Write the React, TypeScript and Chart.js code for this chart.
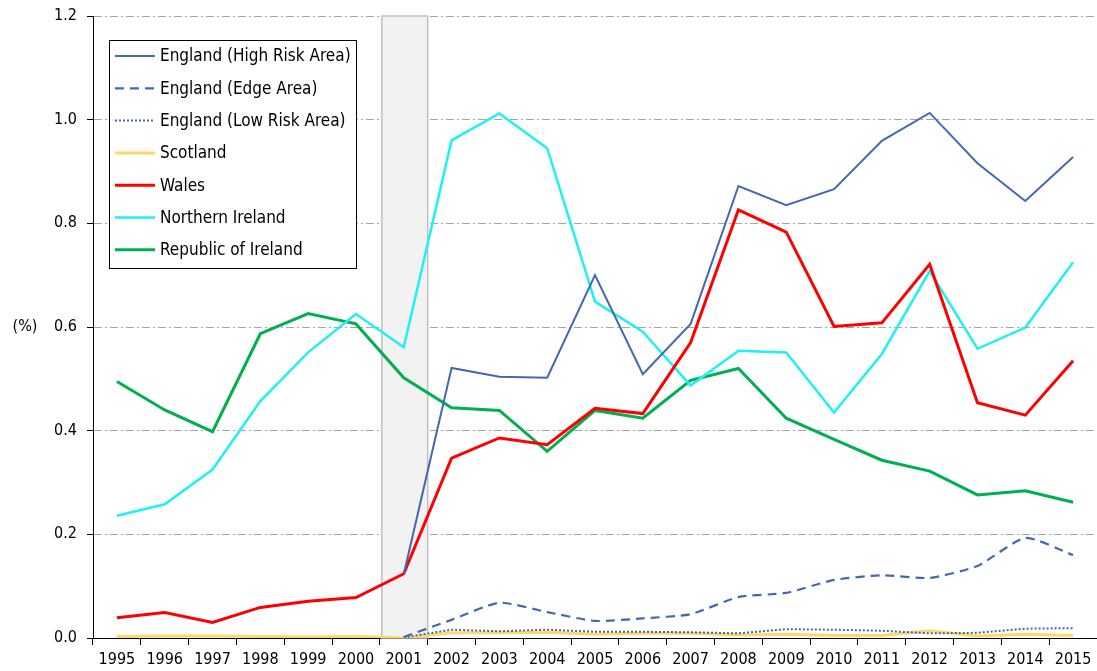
import React, { useEffect, useRef } from "react";
import { Chart, registerables } from "chart.js";

Chart.register(...registerables);

const years = ["1995","1996","1997","1998","1999","2000","2001","2002","2003","2004","2005","2006","2007","2008","2009","2010","2011","2012","2013","2014","2015"];
const yTicks = [0, 0.2, 0.4, 0.6, 0.8, 1.0, 1.2];
const highlightYear = "2001";

const englandHigh = [null,null,null,null,null,null,0.123,0.521,0.504,0.502,0.70,0.509,0.606,0.872,0.835,0.866,0.959,1.013,0.916,0.843,0.928];
const englandEdge = [null,null,null,null,null,null,0.002,0.035,0.068,0.05,0.033,0.038,0.046,0.079,0.087,0.112,0.121,0.116,0.139,0.193,0.16];
const englandLow = [null,null,null,null,null,null,0.001,0.016,0.013,0.016,0.012,0.012,0.011,0.009,0.017,0.016,0.014,0.009,0.01,0.018,0.019];
const scotland = [0.003,0.004,0.004,0.003,0.002,0.003,0.0,0.01,0.01,0.011,0.007,0.009,0.009,0.006,0.007,0.005,0.005,0.014,0.004,0.007,0.005];
const wales = [0.039,0.049,0.03,0.059,0.071,0.078,0.124,0.347,0.386,0.373,0.443,0.433,0.57,0.826,0.783,0.601,0.608,0.721,0.454,0.43,0.535];
const northernIreland = [0.236,0.258,0.325,0.457,0.551,0.625,0.561,0.96,1.012,0.945,0.649,0.591,0.487,0.554,0.551,0.435,0.548,0.708,0.558,0.599,0.725];
const republicOfIreland = [0.495,0.44,0.398,0.587,0.626,0.606,0.502,0.444,0.439,0.36,0.439,0.424,0.497,0.52,0.424,0.383,0.343,0.322,0.276,0.284,0.262];

const FONT = "'DejaVu Sans Condensed', 'DejaVu Sans', sans-serif";
const FSIZE = 16;

const bandPlugin = {
  id: "band",
  beforeDatasetsDraw(chart: any) {
    const x = chart.scales.x;
    const y = chart.scales.y;
    const idx = years.indexOf(highlightYear);
    const c = x.getPixelForValue(idx);
    const half = (x.getPixelForValue(1) - x.getPixelForValue(0)) / 2;
    const top = y.getPixelForValue(1.2);
    const bottom = y.getPixelForValue(0);
    const ctx = chart.ctx;
    ctx.save();
    ctx.fillStyle = "#F2F2F2";
    ctx.fillRect(c - half + 2, top, half * 2 - 2, bottom - top);
    ctx.strokeStyle = "#C0C0C0";
    ctx.lineWidth = 1.5;
    ctx.strokeRect(c - half + 2, top, half * 2 - 2, bottom - top);
    ctx.restore();
  },
};

const legendPlugin = {
  id: "customLegend",
  afterDraw(chart: any) {
    const ctx = chart.ctx;
    const area = chart.chartArea;
    const left = area.left + 16;
    const top = area.top + 24;
    const w = 247;
    const h = 228;
    ctx.save();
    ctx.fillStyle = "#FFFFFF";
    ctx.fillRect(left, top, w, h);
    ctx.strokeStyle = "#000000";
    ctx.lineWidth = 1;
    ctx.strokeRect(left + 0.5, top + 0.5, w, h);
    ctx.font = "17px " + FONT;
    ctx.textBaseline = "middle";
    chart.data.datasets.forEach((ds: any, i: number) => {
      const yy = top + 16 + i * 32.3;
      ctx.beginPath();
      ctx.strokeStyle = ds.borderColor;
      ctx.lineWidth = ds.borderWidth;
      ctx.setLineDash(ds.borderDash || []);
      ctx.moveTo(left + 6, yy);
      ctx.lineTo(left + 46, yy);
      ctx.stroke();
      ctx.setLineDash([]);
      ctx.fillStyle = "#000000";
      ctx.fillText(ds.label, left + 51, yy + 1);
    });
    ctx.font = FSIZE + "px " + FONT;
    ctx.textAlign = "center";
    ctx.fillStyle = "#000";
    ctx.fillText("(%)", 25, (area.top + area.bottom) / 2);
    ctx.restore();
  },
};

export default function App() {
  const ref = useRef<HTMLCanvasElement>(null);
  useEffect(() => {
    document.body.style.margin = "0";
    const blue = "#4468AE";
    const chart = new Chart(ref.current!, {
      type: "line",
      data: {
        labels: years,
        datasets: [
          { label: "England (High Risk Area)", data: englandHigh, borderColor: blue, borderWidth: 2, pointRadius: 0, tension: 0 },
          { label: "England (Edge Area)", data: englandEdge, borderColor: blue, borderWidth: 2.2, borderDash: [9, 6], pointRadius: 0, tension: 0.2 },
          { label: "England (Low Risk Area)", data: englandLow, borderColor: blue, borderWidth: 2, borderDash: [2, 2], pointRadius: 0, tension: 0 },
          { label: "Scotland", data: scotland, borderColor: "#FFD966", borderWidth: 3, pointRadius: 0, tension: 0 },
          { label: "Wales", data: wales, borderColor: "#FF0000", borderWidth: 3, pointRadius: 0, tension: 0 },
          { label: "Northern Ireland", data: northernIreland, borderColor: "#1FF0F5", borderWidth: 2.5, pointRadius: 0, tension: 0 },
          { label: "Republic of Ireland", data: republicOfIreland, borderColor: "#00B050", borderWidth: 3, pointRadius: 0, tension: 0 },
        ] as any,
      },
      options: {
        responsive: false,
        animation: false,
        layout: { padding: { top: 16, right: 0, left: 0, bottom: 0 } },
        plugins: { legend: { display: false }, tooltip: { enabled: false } },
        scales: {
          x: {
            type: "category",
            offset: true,
            afterFit: (s: any) => { s.height = 33; },
            grid: { offset: true, drawOnChartArea: false, drawTicks: true, tickLength: 7, tickColor: "#000" },
            border: { color: "#000", width: 1 },
            ticks: { color: "#000", font: { family: FONT, size: FSIZE }, maxRotation: 0, autoSkip: false, padding: 5 },
          },
          y: {
            min: 0,
            max: 1.2,
            afterFit: (s: any) => { s.width = 93; s.paddingTop = 0; s.paddingBottom = 0; },
            afterBuildTicks: (s: any) => { s.ticks = yTicks.map((v) => ({ value: v })); },
            grid: { color: "#A6A6A6", tickColor: "#000", tickLength: 6, tickBorderDash: [], lineWidth: 1 },
            border: { color: "#000", width: 1, dash: [8, 3, 2, 3] } as any,
            ticks: { color: "#000", font: { family: FONT, size: FSIZE }, padding: 10, callback: (v: any) => Number(v).toFixed(1) },
          },
        },
      } as any,
      plugins: [bandPlugin, legendPlugin],
    });
    return () => chart.destroy();
  }, []);
  return <canvas ref={ref} width={1097} height={671} />;
}
